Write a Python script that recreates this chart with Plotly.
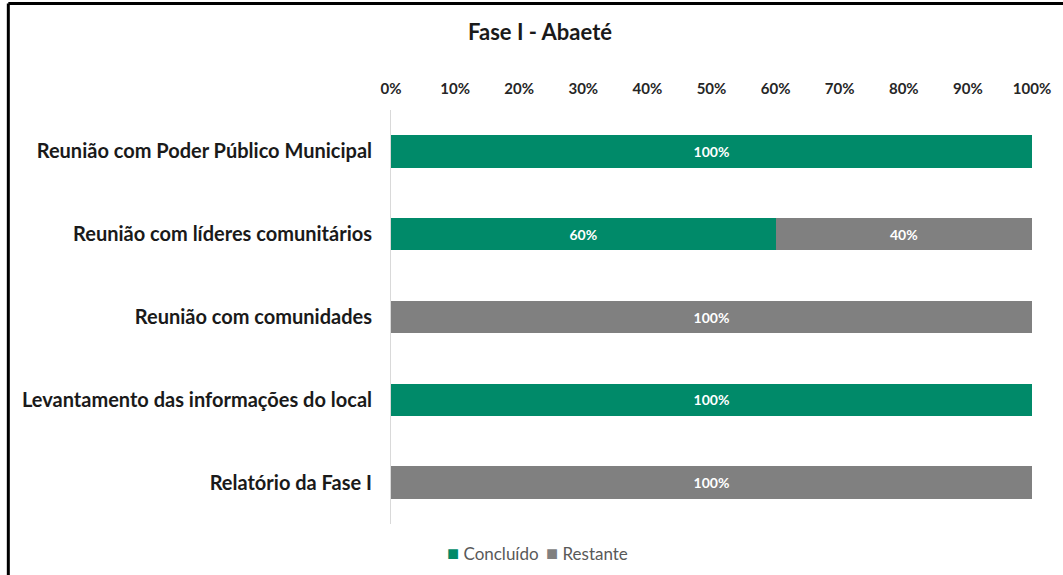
import plotly.graph_objects as go

etapas = [
    "Reunião com Poder Público Municipal",
    "Reunião com líderes comunitários",
    "Reunião com comunidades",
    "Levantamento das informações do local",
    "Relatório da Fase I",
]
concluido = [100, 60, 0, 100, 0]
restante = [0, 40, 100, 0, 100]
ticks = [0, 10, 20, 30, 40, 50, 60, 70, 80, 90, 100]

verde = "#008A69"
cinza = "#808080"
fonte = "Lato, 'Open Sans', sans-serif"


def rotulos(vals):
    return [f"{v}%" if v > 0 else "" for v in vals]


fig = go.Figure()
fig.add_trace(go.Bar(
    y=etapas, x=concluido, orientation="h", name="Concluído",
    marker=dict(color=verde, line=dict(width=0)),
    text=rotulos(concluido), textposition="inside", insidetextanchor="middle",
    textfont=dict(color="white", size=14, family=fonte, weight="bold"),
))
fig.add_trace(go.Bar(
    y=etapas, x=restante, orientation="h", name="Restante",
    marker=dict(color=cinza, line=dict(width=0)),
    text=rotulos(restante), textposition="inside", insidetextanchor="middle",
    textfont=dict(color="white", size=14, family=fonte, weight="bold"),
))

fig.update_layout(
    barmode="stack",
    bargap=0.61,
    width=1063, height=575,
    margin=dict(l=391, r=27, t=109.5, b=50.5),
    plot_bgcolor="white", paper_bgcolor="white",
    font=dict(family=fonte, color="#262626"),
    title=dict(text="<b>Fase I - Abaeté</b>", x=0.508, xanchor="center",
               y=0.943, yanchor="middle", font=dict(size=22, color="#1a1a1a")),
    showlegend=False,
    uniformtext=dict(minsize=8, mode="show"),
)
fig.update_xaxes(
    side="top", range=[0, 100], tickvals=ticks, ticktext=[f"{t}%" for t in ticks],
    showgrid=False, zeroline=False, showline=False, ticks="",
    tickfont=dict(size=15, color="#262626", weight="bold"), ticklabelstandoff=12,
)
fig.update_yaxes(
    autorange="reversed", showgrid=False, zeroline=False,
    showline=True, linecolor="#d9d9d9", linewidth=1, ticks="",
    tickfont=dict(size=20, color="#1a1a1a", weight="bold"), ticklabelstandoff=14,
)

# legenda desenhada como texto (espaçamento igual ao do Excel)
for nome, cor, xpos in [("Concluído", verde, 0.085), ("Restante", cinza, 0.238)]:
    fig.add_annotation(
        xref="paper", yref="paper", x=xpos, y=-0.0687, xanchor="left", yanchor="middle",
        text=f"<span style='color:{cor};font-size:20px'>■</span> {nome}", showarrow=False,
        font=dict(size=17, color="#595959", family=fonte),
    )

# moldura preta (esquerda e topo)
fig.add_shape(type="line", xref="paper", yref="paper",
              x0=-0.597, x1=-0.597, y0=1.257, y1=-0.2, line=dict(color="black", width=3))
fig.add_shape(type="line", xref="paper", yref="paper",
              x0=-0.597, x1=1.1, y0=1.257, y1=1.257, line=dict(color="black", width=3))

fig.write_html("out.html", config={"displayModeBar": False},
               post_script="document.body.style.margin='0';")
